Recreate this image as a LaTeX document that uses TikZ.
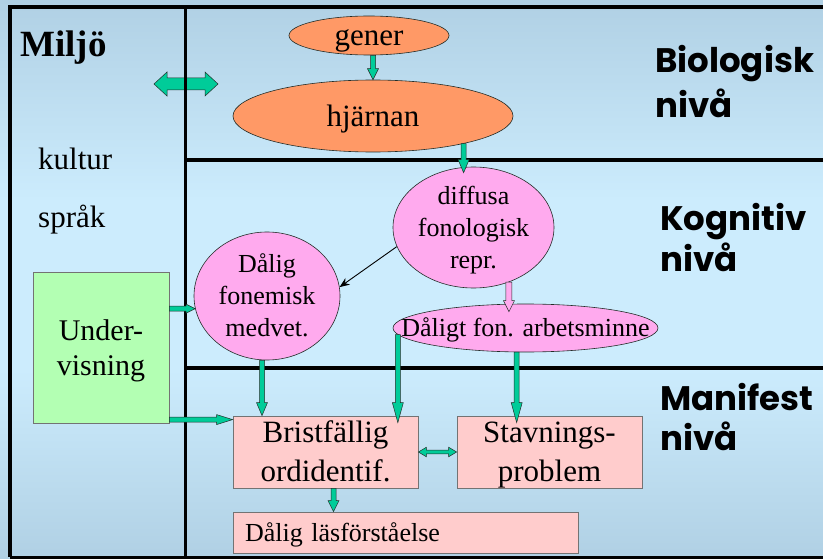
\documentclass[tikz,border=0pt]{standalone}
\usepackage{fontspec}
\setmainfont{Liberation Serif}
\newfontfamily\lvlfont{Poppins}
\usetikzlibrary{shapes.geometric,calc,arrows.meta}
\definecolor{bgdark}{RGB}{176,208,228}
\definecolor{bglight}{RGB}{204,236,253}
\definecolor{orng}{RGB}{255,153,102}
\definecolor{pnk}{RGB}{255,170,238}
\definecolor{grn}{RGB}{0,204,153}
\definecolor{lgrn}{RGB}{179,255,179}
\definecolor{boxpink}{RGB}{255,204,204}
\definecolor{edge}{RGB}{35,45,40}
\newcommand\ps{\rule[-0.216em]{0pt}{1.107em}}
\newcommand\fs[2]{\fontsize{#1}{#2}\selectfont}
\tikzset{
  ba sw/.store in=\bsw, ba hw/.store in=\bhw, ba hl/.store in=\bhl,
  ba sw=2.5pt, ba hw=5.5pt, ba hl=13pt,
  barrow/.style={draw=edge, line width=0.5pt, fill=grn,
    to path={let \p1=(\tikztostart), \p2=(\tikztotarget),
      \n1={atan2(\y2-\y1,\x2-\x1)}, \n2={veclen(\x2-\x1,\y2-\y1)} in
      ($(\p1)+(\n1+90:\bsw)$) -- ($(\p1)+(\n1:\n2-\bhl)+(\n1+90:\bsw)$)
      -- ($(\p1)+(\n1:\n2-\bhl)+(\n1+90:\bhw)$) -- (\p2)
      -- ($(\p1)+(\n1:\n2-\bhl)+(\n1-90:\bhw)$)
      -- ($(\p1)+(\n1:\n2-\bhl)+(\n1-90:\bsw)$)
      -- ($(\p1)+(\n1-90:\bsw)$) -- cycle}},
  dbarrow/.style={draw=edge, line width=0.5pt, fill=grn,
    to path={let \p1=(\tikztostart), \p2=(\tikztotarget),
      \n1={atan2(\y2-\y1,\x2-\x1)}, \n2={veclen(\x2-\x1,\y2-\y1)} in
      (\p1) -- ($(\p1)+(\n1:\bhl)+(\n1+90:\bhw)$)
      -- ($(\p1)+(\n1:\bhl)+(\n1+90:\bsw)$)
      -- ($(\p1)+(\n1:\n2-\bhl)+(\n1+90:\bsw)$)
      -- ($(\p1)+(\n1:\n2-\bhl)+(\n1+90:\bhw)$) -- (\p2)
      -- ($(\p1)+(\n1:\n2-\bhl)+(\n1-90:\bhw)$)
      -- ($(\p1)+(\n1:\n2-\bhl)+(\n1-90:\bsw)$)
      -- ($(\p1)+(\n1:\bhl)+(\n1-90:\bsw)$)
      -- ($(\p1)+(\n1:\bhl)+(\n1-90:\bhw)$) -- cycle}},
  oval/.style={ellipse, draw=edge, line width=0.6pt, inner sep=-40pt, align=center},
  bx/.style={rectangle, draw=black!55, line width=0.8pt, inner sep=-40pt, align=center},
  big/.style={font=\fs{31}{38}},
  small/.style={font=\fs{26}{32}},
  lbl/.style={font=\lvlfont\bfseries\fs{34}{#1}, align=left, inner sep=0pt, anchor=north west},
  txt/.style={inner sep=0pt, anchor=base west},
  frame/.style={line width=#1, draw=black},
  thinarrow/.style={draw=black, line width=0.9pt, -{Stealth[length=10pt,width=8pt]}}
}
\begin{document}
\begin{tikzpicture}[x=1pt,y=1pt]
\useasboundingbox (0,0) rectangle (823,-559);
\shade[top color=bgdark, bottom color=bglight] (0,0.5) rectangle (823,-200.5);
\fill[bglight] (0,-200) rectangle (823,-370);
\shade[top color=bglight, bottom color=bgdark] (0,-369.5) rectangle (823,-559);

% environment double arrow (under the frame line)
\coordinate (envL) at (154,-84);
\coordinate (envR) at (218,-84);
\draw[dbarrow, ba sw=6pt, ba hw=12pt, ba hl=13pt] (envL) to (envR);

% frame
\draw[frame=4pt] (823,-7) -| (9.5,-557);
\draw[frame=3pt] (9.5,-557) -- (823,-557);
\draw[frame=3pt] (185.5,-7) -- (185.5,-557);
\draw[frame=4pt] (185.5,-160) -- (823,-160);
\draw[frame=4pt] (185.5,-368) -- (823,-368);

% left panel texts
\node[txt, font=\bfseries\fs{37}{44}] (miljo) at (20,-57) {Miljö};
\node[txt, font=\fs{31}{38}] (kultur) at (38,-170) {kultur};
\node[txt, font=\fs{31}{38}] (sprak) at (38,-228) {språk};

% level labels
\node[lbl=45] (bio) at (655,-42) {\ps Biologisk\\\ps nivå};
\node[lbl=38] (kog) at (660,-200) {\ps Kognitiv\\\ps nivå};
\node[lbl=40] (man) at (660,-380) {\ps Manifest\\\ps nivå};

% nodes
\node[oval, fill=orng, big, minimum width=160, minimum height=39] (gener) at (369,-35.5) {\ps gener};
\node[oval, fill=orng, big, minimum width=280, minimum height=72] (hjarnan) at (373,-116) {\ps hjärnan};
\node[oval, fill=pnk, small, minimum width=161, minimum height=121] (diffusa) at (473.5,-227.5) {\ps diffusa\\\ps fonologisk\\\ps repr.};
\node[oval, fill=pnk, small, minimum width=146, minimum height=128] (dalig) at (267,-296) {\ps Dålig\\\ps fonemisk\\\ps medvet.};
\node[oval, fill=pnk, small, minimum width=265, minimum height=48] (arb) at (525.5,-328) {\ps Dåligt fon. arbetsminne};
\node[bx, fill=lgrn, font=\fs{30}{35}, minimum width=136, minimum height=151] (under) at (101,-347.5) {\ps Under-\\\ps visning};
\node[bx, fill=boxpink, font=\fs{31}{39}, minimum width=185, minimum height=72] (bris) at (325.5,-452) {\ps Bristfällig\\\ps ordidentif.};
\node[bx, fill=boxpink, font=\fs{31}{39}, minimum width=185, minimum height=72] (stav) at (549.5,-452) {\ps Stavnings-\\\ps problem};
\node[bx, fill=boxpink, small, minimum width=345, minimum height=41, text width=321, align=left] (las) at (405.5,-532.5) {\ps Dålig läsförståelse};

% connectors
\draw[barrow, ba hl=11pt] (hjarnan.north |- gener.south) to (hjarnan.north);
\draw[barrow] (hjarnan.-17) to ($(hjarnan.-17 |- diffusa.north)+(0,-6)$);
\draw[thinarrow] (diffusa.194) -- (dalig.7);
\draw[barrow, fill=pnk, ba sw=3pt, ba hl=11pt] (diffusa.-57) to ($(diffusa.-57 |- arb.north)+(0,-8)$);
\draw[barrow, ba hl=9pt, ba hw=4.5pt] (dalig.190 -| under.east) to (dalig.190);
\draw[barrow, ba hl=16pt, ba hw=5pt] ($(under.east |- bris.north west)+(0,-4)$) to ($(bris.north west)+(0,-4)$);
\draw[barrow] ($(dalig.south)+(-5,0)$) to ($(dalig.south |- bris.north)+(-5,0)$);
\draw[barrow, ba hl=20pt] (arb.183) to ($(arb.183 |- bris.north)+(0,-7)$);
\draw[barrow, ba hl=20pt] (arb.-110) to ($(arb.-110 |- stav.north)+(0,-7)$);
\draw[dbarrow, ba sw=1.8pt, ba hw=4.8pt, ba hl=8pt] (bris.east) to (stav.west);
\draw[barrow, ba hl=11pt] ($(bris.south)+(8,0)$) to ($(bris.south |- las.north)+(8,0)$);
\end{tikzpicture}
\end{document}
